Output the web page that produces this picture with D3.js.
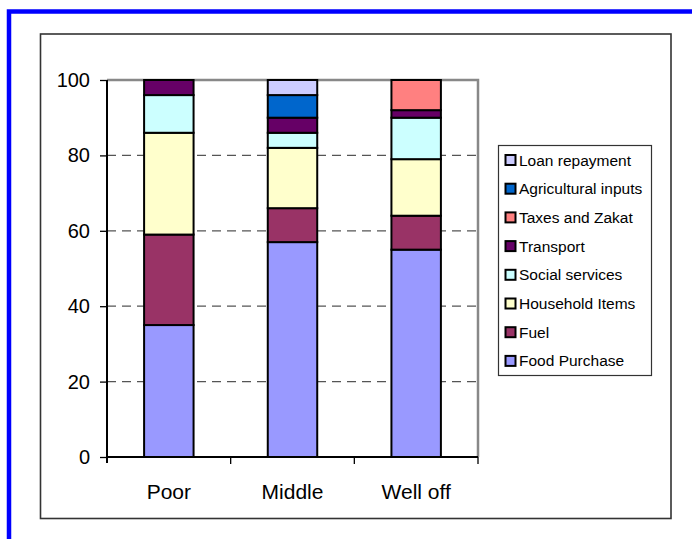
<!DOCTYPE html>
<html>
<head>
<meta charset="utf-8">
<script src="https://cdn.jsdelivr.net/npm/d3@7"></script>
<style>
  html, body { margin: 0; padding: 0; background: #fff; }
  svg { display: block; font-family: "Liberation Sans", Arial, sans-serif; }
</style>
</head>
<body>
<svg id="chart" width="692" height="539"></svg>
<script>
// Expenditure shares (%) by wealth group
const groups = ["Poor", "Middle", "Well off"];
const seriesNames = ["Food Purchase", "Fuel", "Household Items", "Social services",
                     "Transport", "Taxes and Zakat", "Agricultural inputs", "Loan repayment"];
const foodPurchase   = [35, 57, 55];
const fuel           = [24,  9,  9];
const householdItems = [27, 16, 15];
const socialServices = [10,  4, 11];
const transport      = [ 4,  4,  2];
const taxesZakat     = [ 0,  0,  8];
const agriInputs     = [ 0,  6,  0];
const loanRepayment  = [ 0,  4,  0];
const seriesColors = ["#9999FF", "#993366", "#FFFFCC", "#CCFFFF",
                      "#660066", "#FF8080", "#0066CC", "#CCCCFF"];
const yTicks = [0, 20, 40, 60, 80, 100];

const seriesValues = [foodPurchase, fuel, householdItems, socialServices,
                      transport, taxesZakat, agriInputs, loanRepayment];
const rows = groups.map((g, i) => {
  const r = { group: g };
  seriesNames.forEach((s, k) => { r[s] = seriesValues[k][i]; });
  return r;
});
const stacked = d3.stack().keys(seriesNames)(rows);

const svg = d3.select("#chart");

// outer blue frame
svg.append("rect")
  .attr("x", 9).attr("y", 11.5).attr("width", 720).attr("height", 600)
  .attr("fill", "none").attr("stroke", "#0000FF").attr("stroke-width", 4.5);

// chart frame
svg.append("rect")
  .attr("x", 40.5).attr("y", 34).attr("width", 630.5).attr("height", 484.5)
  .attr("fill", "#fff").attr("stroke", "#333").attr("stroke-width", 1.6);

const plot = { left: 107, right: 478, top: 80, bottom: 457 };

const x = d3.scaleBand().domain(groups)
  .range([plot.left, plot.right]).paddingInner(0.6).paddingOuter(0.3);
const xOuter = d3.scaleBand().domain(groups).range([plot.left, plot.right]);
const y = d3.scaleLinear().domain([0, 100]).range([plot.bottom, plot.top]);

// plot-area border (top and right)
svg.append("path")
  .attr("d", `M${plot.left},${y(100)}H${plot.right}V${plot.bottom}`)
  .attr("fill", "none").attr("stroke", "#888").attr("stroke-width", 2.5);

// dashed gridlines
svg.append("g").selectAll("line")
  .data(yTicks.filter(t => t > 0 && t < 100))
  .join("line")
  .attr("x1", plot.left).attr("x2", plot.right)
  .attr("y1", d => y(d)).attr("y2", d => y(d))
  .attr("stroke", "#555").attr("stroke-width", 1.2)
  .attr("stroke-dasharray", "9,6");

// stacked bars
svg.append("g").selectAll("g")
  .data(stacked)
  .join("g")
  .attr("fill", (d, i) => seriesColors[i])
  .selectAll("rect")
  .data(d => d.filter(p => p[1] - p[0] > 0))
  .join("rect")
  .attr("x", d => x(d.data.group))
  .attr("width", x.bandwidth())
  .attr("y", d => y(d[1]))
  .attr("height", d => y(d[0]) - y(d[1]))
  .attr("stroke", "#000").attr("stroke-width", 2);

// y axis
const yAxis = svg.append("g")
  .attr("transform", `translate(${plot.left},0)`)
  .call(d3.axisLeft(y).tickValues(yTicks).tickSize(7).tickPadding(10));
yAxis.select(".domain").attr("stroke", "#000").attr("stroke-width", 2)
  .attr("d", `M0,${y(100)}V${plot.bottom + 6}`);
yAxis.selectAll(".tick line").attr("stroke", "#000").attr("stroke-width", 1.3);
yAxis.selectAll(".tick text").attr("font-size", 20).attr("fill", "#000")
  .attr("font-family", "Liberation Sans, Arial, sans-serif");

// x axis line with boundary ticks
const xAxisG = svg.append("g");
xAxisG.append("line")
  .attr("x1", plot.left).attr("x2", plot.right)
  .attr("y1", plot.bottom).attr("y2", plot.bottom)
  .attr("stroke", "#000").attr("stroke-width", 2);
xAxisG.selectAll("line.bt")
  .data(groups.slice(1).map(g => xOuter(g)).concat([plot.right]))
  .join("line").attr("class", "bt")
  .attr("x1", d => d).attr("x2", d => d)
  .attr("y1", plot.bottom).attr("y2", plot.bottom + 7)
  .attr("stroke", "#000").attr("stroke-width", 1.3);
xAxisG.selectAll("text")
  .data(groups)
  .join("text")
  .attr("x", d => x(d) + x.bandwidth() / 2)
  .attr("y", 499)
  .attr("text-anchor", "middle")
  .attr("font-size", 21)
  .text(d => d);

// legend (top entry = last series)
const legend = svg.append("g").attr("transform", "translate(498,145)");
legend.append("rect")
  .attr("x", 0.5).attr("y", 0.5).attr("width", 153).attr("height", 230)
  .attr("fill", "#fff").attr("stroke", "#333").attr("stroke-width", 1.2);
const order = seriesNames.map((s, i) => i).reverse();
const items = legend.selectAll("g.item")
  .data(order)
  .join("g").attr("class", "item")
  .attr("transform", (d, j) => `translate(0,${15 + j * 28.7})`);
items.append("rect")
  .attr("x", 7.5).attr("y", -5).attr("width", 10).attr("height", 10)
  .attr("fill", d => seriesColors[d]).attr("stroke", "#000").attr("stroke-width", 2);
items.append("text")
  .attr("x", 21).attr("y", 5.5)
  .attr("font-size", 15.5)
  .text(d => seriesNames[d]);
</script>
</body>
</html>
